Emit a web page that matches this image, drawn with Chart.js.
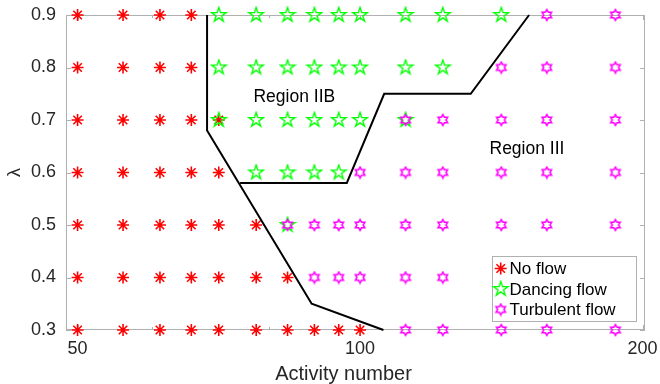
<!DOCTYPE html>
<html>
<head>
<meta charset="utf-8">
<script src="https://cdn.jsdelivr.net/npm/chart.js@4/dist/chart.umd.min.js"></script>
<style>
  html, body { margin: 0; padding: 0; background: #fff; }
  #wrap { width: 660px; height: 384px; }
</style>
</head>
<body>
<div id="wrap"><canvas id="flowMap" width="660" height="384"></canvas></div>
<script>
// Sampled activity numbers (log axis) and λ levels of the parameter sweep
const activityGrid = [50, 55.9, 61.2, 66.1, 70.7, 77.5, 83.7, 89.4, 94.9, 100, 111.8, 122.5, 141.4, 158.1, 187.1];
const lambdaLevels = [0.9, 0.8, 0.7, 0.6, 0.5, 0.4, 0.3];

// For every λ level: first and last activityGrid index observed in each regime
const noFlowSpan    = [[0, 3], [0, 3], [0, 4], [0, 4], [0, 5], [0, 6], [0, 9]];
const dancingSpan   = [[4, 12], [4, 11], [4, 10], [5, 8], [6, 6], null, null];
const turbulentSpan = [[13, 14], [12, 14], [10, 14], [9, 14], [6, 14], [7, 14], [10, 14]];

// Regime boundaries
const leftBoundaryActivity  = [68.7, 68.7, 88.8, 105.9];
const leftBoundaryLambda    = [0.9, 0.68, 0.35, 0.3];
const rightBoundaryActivity = [74.5, 96.8, 106.1, 131.2, 151.4];
const rightBoundaryLambda   = [0.58, 0.58, 0.75, 0.75, 0.9];

// Axis ticks
const xTickValues = [50, 100, 200];
const xMinorTickValues = [60, 70, 80, 90];
const yTickValues = [0.3, 0.4, 0.5, 0.6, 0.7, 0.8, 0.9];

// Region annotations [activity, λ]
const regionLabels = ['Region IIB', 'Region III'];
const regionLabelActivity = [85.1, 150.6];
const regionLabelLambda = [0.744, 0.645];

const seriesNames = ['No flow', 'Dancing flow', 'Turbulent flow'];

const FONT = '"Liberation Sans", Arial, Helvetica, sans-serif';
const TEXT = '#262626';
const FRAME = '#b0b0b0';

function pointsFromSpans(spans) {
  const pts = [];
  spans.forEach((span, row) => {
    if (!span) return;
    for (let k = span[0]; k <= span[1]; k++) pts.push({ x: activityGrid[k], y: lambdaLevels[row] });
  });
  return pts;
}

function zipPoints(xs, ys) {
  return xs.map((x, i) => ({ x, y: ys[i] }));
}

// Hollow star markers rendered to small canvases
function starMarker(size, points, innerRatio, color, lineWidth) {
  const c = document.createElement('canvas');
  c.width = size; c.height = size;
  const g = c.getContext('2d');
  const cx = size / 2, cy = size / 2;
  const R = size / 2 - lineWidth, r = R * innerRatio;
  g.beginPath();
  for (let i = 0; i < points * 2; i++) {
    const a = -Math.PI / 2 + i * Math.PI / points;
    const rr = i % 2 ? r : R;
    g.lineTo(cx + rr * Math.cos(a), cy + rr * Math.sin(a));
  }
  g.closePath();
  g.strokeStyle = color;
  g.lineWidth = lineWidth;
  g.lineJoin = 'miter';
  g.stroke();
  return c;
}

const pentagram = starMarker(18, 5, 0.382, '#00ff00', 1.4);
const hexagram = starMarker(14, 6, 0.577, '#ff00ff', 1.6);

const asteriskStyle = { pointStyle: 'star', radius: 6, borderColor: '#ff0000', borderWidth: 1.6 };

// Axes frame with inward ticks
const framePlugin = {
  id: 'frame',
  beforeDatasetsDraw(chart) {
    const { ctx, chartArea: a, scales } = chart;
    ctx.save();
    ctx.strokeStyle = FRAME;
    ctx.lineWidth = 1;
    ctx.strokeRect(a.left + 0.5, a.top + 0.5, a.right - a.left - 1, a.bottom - a.top - 1);
    ctx.beginPath();
    const xt = (v, len) => {
      const px = Math.round(scales.x.getPixelForValue(v)) + 0.5;
      ctx.moveTo(px, a.bottom); ctx.lineTo(px, a.bottom - len);
      ctx.moveTo(px, a.top); ctx.lineTo(px, a.top + len);
    };
    xTickValues.forEach(v => xt(v, 5));
    xMinorTickValues.forEach(v => xt(v, 3));
    yTickValues.forEach(v => {
      const py = Math.round(scales.y.getPixelForValue(v)) + 0.5;
      ctx.moveTo(a.left, py); ctx.lineTo(a.left + 5, py);
      ctx.moveTo(a.right, py); ctx.lineTo(a.right - 5, py);
    });
    ctx.stroke();
    ctx.restore();
  }
};

function drawAsterisk(ctx, x, y, r) {
  ctx.save();
  ctx.strokeStyle = '#ff0000';
  ctx.lineWidth = 1.6;
  ctx.beginPath();
  for (let i = 0; i < 4; i++) {
    const a = i * Math.PI / 4;
    ctx.moveTo(x - r * Math.sin(a), y - r * Math.cos(a));
    ctx.lineTo(x + r * Math.sin(a), y + r * Math.cos(a));
  }
  ctx.stroke();
  ctx.restore();
}

// Region labels, x-axis title and the in-plot legend
const annotationPlugin = {
  id: 'annotations',
  afterDatasetsDraw(chart) {
    const { ctx, chartArea: a, scales } = chart;
    ctx.save();
    ctx.fillStyle = '#000';
    ctx.font = '17.5px ' + FONT;
    ctx.textAlign = 'center';
    ctx.textBaseline = 'middle';
    regionLabels.forEach((t, i) => {
      ctx.fillText(t, scales.x.getPixelForValue(regionLabelActivity[i]), scales.y.getPixelForValue(regionLabelLambda[i]));
    });

    // x-axis title
    ctx.fillStyle = TEXT;
    ctx.font = '20px ' + FONT;
    ctx.textBaseline = 'alphabetic';
    ctx.fillText('Activity number', (a.left + a.right) / 2 - 12, 379.5);

    // legend box
    const lx = 492.5, ly = 256.5, lw = 144, lh = 65;
    ctx.fillStyle = '#fff';
    ctx.fillRect(lx, ly, lw, lh);
    ctx.strokeStyle = FRAME;
    ctx.lineWidth = 1;
    ctx.strokeRect(lx, ly, lw, lh);
    const rows = [268.5, 289, 309.5];
    const mx = 500.7;
    drawAsterisk(ctx, mx, rows[0], 6);
    ctx.drawImage(pentagram, mx - pentagram.width / 2, rows[1] - pentagram.height / 2);
    ctx.drawImage(hexagram, mx - hexagram.width / 2, rows[2] - hexagram.height / 2);
    ctx.fillStyle = '#000';
    ctx.font = '17px ' + FONT;
    ctx.textAlign = 'left';
    ctx.textBaseline = 'middle';
    seriesNames.forEach((t, i) => ctx.fillText(t, 509.5, rows[i] + 1));
    ctx.restore();
  }
};

new Chart(document.getElementById('flowMap'), {
  type: 'scatter',
  data: {
    datasets: [
      {
        label: seriesNames[0], data: pointsFromSpans(noFlowSpan), order: 4, clip: false,
        pointStyle: asteriskStyle.pointStyle, pointRadius: asteriskStyle.radius,
        borderColor: asteriskStyle.borderColor, pointBorderWidth: asteriskStyle.borderWidth,
        backgroundColor: 'transparent'
      },
      {
        label: seriesNames[1], data: pointsFromSpans(dancingSpan), order: 3, clip: false,
        pointStyle: pentagram, pointRadius: 7
      },
      {
        label: seriesNames[2], data: pointsFromSpans(turbulentSpan), order: 2, clip: false,
        pointStyle: hexagram, pointRadius: 5
      },
      {
        label: 'boundary-left', data: zipPoints(leftBoundaryActivity, leftBoundaryLambda), order: 1, clip: false,
        showLine: true, pointRadius: 0, borderColor: '#000', borderWidth: 2, fill: false, tension: 0
      },
      {
        label: 'boundary-right', data: zipPoints(rightBoundaryActivity, rightBoundaryLambda), order: 1, clip: false,
        showLine: true, pointRadius: 0, borderColor: '#000', borderWidth: 2, fill: false, tension: 0
      }
    ]
  },
  options: {
    responsive: false,
    animation: false,
    devicePixelRatio: 1,
    layout: { padding: { top: 15, right: 15, left: 0, bottom: 0 } },
    plugins: { legend: { display: false }, tooltip: { enabled: false } },
    scales: {
      x: {
        type: 'logarithmic',
        min: 48.6, max: 201.2,
        grid: { display: false, drawTicks: false },
        border: { display: false },
        afterBuildTicks: s => { s.ticks = xTickValues.map(v => ({ value: v })); },
        afterFit: s => { s.height = 54; s.paddingLeft = 0; s.paddingRight = 0; },
        ticks: {
          autoSkip: false, maxRotation: 0, padding: 8,
          color: TEXT, font: { family: FONT, size: 18 },
          callback: v => String(v)
        }
      },
      y: {
        type: 'linear',
        min: 0.3, max: 0.9,
        grid: { display: false, drawTicks: false },
        border: { display: false },
        afterBuildTicks: s => { s.ticks = yTickValues.map(v => ({ value: v })); },
        afterFit: s => { s.width = 66; s.paddingTop = 0; s.paddingBottom = 0; },
        ticks: {
          autoSkip: false, padding: 10,
          color: TEXT, font: { family: FONT, size: 18 },
          callback: v => Number(v).toFixed(1)
        },
        title: {
          display: true, text: 'λ', color: TEXT,
          font: { family: FONT, size: 18 }, padding: { top: 4, bottom: 0 }
        }
      }
    }
  },
  plugins: [framePlugin, annotationPlugin]
});
</script>
</body>
</html>
